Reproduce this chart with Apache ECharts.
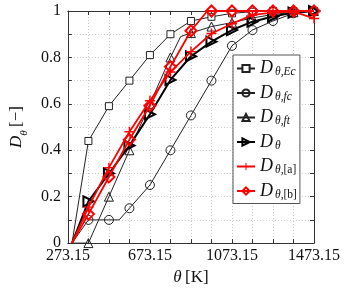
<!DOCTYPE html>
<html><head><meta charset="utf-8">
<script src="https://cdn.jsdelivr.net/npm/echarts@6/dist/echarts.min.js"></script>
<style>html,body{margin:0;padding:0;background:#fff}#c{width:349px;height:291px}</style>
</head><body><div id="c"></div>
<script>
// Temperatures (K)
const temps = [293.15, 373.15, 473.15, 573.15, 673.15, 773.15, 873.15, 973.15, 1073.15, 1173.15, 1273.15, 1373.15, 1473.15];
const xTickLabels = ['273.15', '673.15', '1073.15', '1473.15'];
const yTickLabels = ['0', '0.2', '0.4', '0.6', '0.8', '1'];
// Series values
const dEc = [0, 0.44, 0.59, 0.70, 0.81, 0.90, 0.957, 0.975, 0.99, 0.997, 1, 1, 1];
const dFc = [0, 0.10, 0.10, 0.15, 0.25, 0.40, 0.55, 0.70, 0.85, 0.918, 0.957, 0.99, 1];
const dFcExtraT = [523.15], dFcExtraV = [0.10];
const dFt = [0, 0, 0.20, 0.40, 0.60, 0.80, 0.905, 0.933, 0.95, 0.97, 0.985, 0.995, 1];
const dFtExtraT = [823.15], dFtExtraV = [0.89];
const dTh = [0, 0.18, 0.30, 0.42, 0.555, 0.703, 0.805, 0.868, 0.918, 0.954, 0.976, 0.993, 1];
const dA = [0, 0.155, 0.325, 0.48, 0.613, 0.737, 0.825, 0.903, 0.945, 0.983, 0.993, 0.997, 0.968];
const dB = [0, 0.125, 0.285, 0.446, 0.592, 0.76, 0.915, 1, 1, 1, 1, 1, 1];
const dBExtraT = [953.15], dBExtraV = [1];

const T0 = 273.15;
function build(vals, exT, exV) {
  const pts = temps.map((t, i) => {
    const o = { value: [t - T0, vals[i]] };
    if (i === 0) o.symbol = 'none';
    return o;
  });
  (exT || []).forEach((t, i) => pts.push({ value: [t - T0, exV[i]], symbol: 'none' }));
  pts.sort((a, b) => a.value[0] - b.value[0]);
  return pts;
}
const serif = '"Liberation Serif","DejaVu Serif",serif';
const plusPath = 'path://M-1,-0.14H-0.14V-1H0.14V-0.14H1V0.14H0.14V1H-0.14V0.14H-1Z';

const names = {
  Ec: '{d|D}{s|θ,Ec}',
  fc: '{d|D}{s|θ,fc}',
  ft: '{d|D}{s|θ,ft}',
  th: '{d|D}{s|θ}',
  a: '{d|D}{s|θ}{u|,[a]}',
  b: '{d|D}{s|θ}{u|,[b]}'
};
const rich = {
  d: { fontFamily: serif, fontStyle: 'italic', fontSize: 18, color: '#111', lineHeight: 18 },
  s: { fontFamily: serif, fontStyle: 'italic', fontSize: 11.5, color: '#111', lineHeight: 11, padding: [7, 0, 0, 2] },
  u: { fontFamily: serif, fontSize: 11.5, color: '#111', lineHeight: 11, padding: [7, 0, 0, 0] }
};

const thin = { color: '#222', width: 1 };
const series = [
  { name: 'Ec', data: build(dEc), symbol: 'rect', symbolSize: 7, lineStyle: thin,
    itemStyle: { color: '#fff', borderColor: '#222', borderWidth: 1 }, z: 2 },
  { name: 'fc', data: build(dFc, dFcExtraT, dFcExtraV), symbol: 'circle', symbolSize: 9, lineStyle: thin,
    itemStyle: { color: 'rgba(0,0,0,0)', borderColor: '#222', borderWidth: 1 }, z: 2 },
  { name: 'ft', data: build(dFt, dFtExtraT, dFtExtraV), symbol: 'triangle', symbolSize: 9, lineStyle: thin,
    itemStyle: { color: 'rgba(0,0,0,0)', borderColor: '#222', borderWidth: 1 }, z: 2 },
  { name: 'th', data: build(dTh), symbol: 'triangle', symbolRotate: -90, symbolSize: 10, lineStyle: { color: '#000', width: 2 },
    itemStyle: { color: 'rgba(0,0,0,0)', borderColor: '#000', borderWidth: 2 }, z: 3 },
  { name: 'a', data: build(dA), symbol: plusPath, symbolSize: 10, lineStyle: { color: '#f00', width: 1.8 },
    itemStyle: { color: '#f00' }, z: 4 },
  { name: 'b', data: build(dB, dBExtraT, dBExtraV), symbol: 'diamond', symbolSize: 11, lineStyle: { color: '#f00', width: 1.8 },
    itemStyle: { color: 'rgba(0,0,0,0)', borderColor: '#f00', borderWidth: 2 }, z: 5 }
].map(s => Object.assign({ type: 'line', showSymbol: true, animation: false, xAxisIndex: 0, yAxisIndex: 0 }, s));

const axisLineStyle = { color: '#333', width: 1 };
const chart = echarts.init(document.getElementById('c'), null, { renderer: 'canvas' });
chart.setOption({
  animation: false,
  backgroundColor: '#fff',
  grid: { left: 52, right: 35, top: 11, bottom: 47 },
  legend: {
    orient: 'vertical', left: 233, top: 55,
    padding: [4, 3, 3, 3], itemGap: 5.5, itemWidth: 18, itemHeight: 9,
    backgroundColor: '#fff', borderColor: '#555', borderWidth: 1, borderRadius: 0,
    data: ['Ec', 'fc', 'ft', 'th', 'a', 'b'],
    formatter: n => names[n],
    textStyle: { rich: rich, lineHeight: 18, fontFamily: serif }
  },
  xAxis: [{
    type: 'value', min: 0, max: 1200, interval: 100,
    name: '{i|θ} {n|[K]}', nameLocation: 'middle', nameGap: 23,
    nameTextStyle: { rich: { i: { fontFamily: serif, fontStyle: 'italic', fontSize: 17, color: '#111' }, n: { fontFamily: serif, fontSize: 17, color: '#111' } } },
    axisLine: { lineStyle: axisLineStyle },
    axisTick: { inside: true, length: 4, lineStyle: axisLineStyle },
    axisLabel: { fontFamily: serif, fontSize: 16, color: '#111', margin: 5,
      formatter: v => (Math.round(v) % 400 === 0) ? xTickLabels[Math.round(v) / 400] : '' },
    splitLine: { show: true, lineStyle: { color: '#c8c8c8', type: [1, 2], width: 1 } }
  }, {
    type: 'value', position: 'top', min: 0, max: 1200, interval: 100,
    axisLine: { show: true, onZero: false, lineStyle: axisLineStyle },
    axisTick: { show: true, inside: true, length: 4, lineStyle: axisLineStyle },
    axisLabel: { show: false }, splitLine: { show: false }
  }],
  yAxis: [{
    type: 'value', min: 0, max: 1, interval: 0.1,
    name: '{d|D}{s|θ} {n|[−]}', nameLocation: 'middle', nameGap: 38, nameRotate: 90,
    nameTextStyle: { rich: {
      d: { fontFamily: serif, fontStyle: 'italic', fontSize: 17, color: '#111' },
      s: { fontFamily: serif, fontStyle: 'italic', fontSize: 11, color: '#111', verticalAlign: 'bottom', padding: [0, 0, -5, 0] },
      n: { fontFamily: serif, fontSize: 17, color: '#111' } } },
    axisLine: { show: true, lineStyle: axisLineStyle },
    axisTick: { show: true, inside: true, length: 4, lineStyle: axisLineStyle },
    axisLabel: { fontFamily: serif, fontSize: 16, color: '#111', margin: 7,
      formatter: v => { const k = Math.round(v * 10); return k % 2 === 0 ? yTickLabels[k / 2] : ''; } },
    splitLine: { show: true, lineStyle: { color: '#c8c8c8', type: [1, 2], width: 1 } }
  }, {
    type: 'value', position: 'right', min: 0, max: 1, interval: 0.1,
    axisLine: { show: true, onZero: false, lineStyle: axisLineStyle },
    axisTick: { show: true, inside: true, length: 4, lineStyle: axisLineStyle },
    axisLabel: { show: false }, splitLine: { show: false }
  }],
  series: series
});
</script></body></html>
